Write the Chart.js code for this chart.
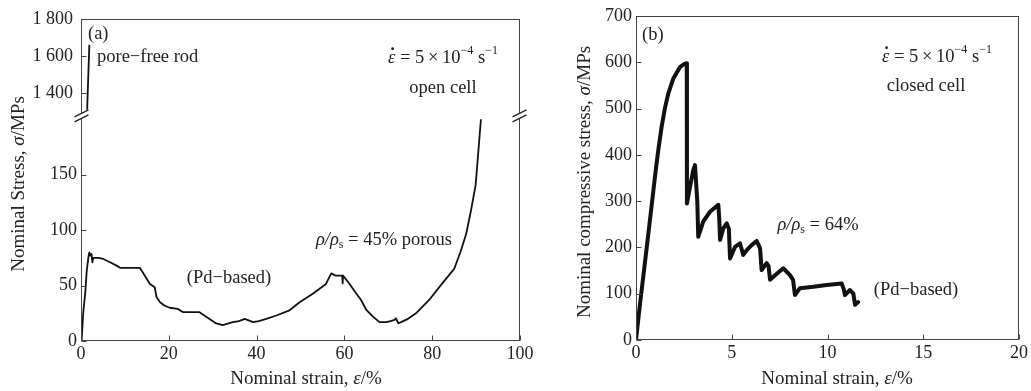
<!DOCTYPE html>
<html>
<head>
<meta charset="utf-8">
<script src="https://cdn.jsdelivr.net/npm/chart.js@4.4.1/dist/chart.umd.min.js"></script>
<style>
  html, body { margin: 0; padding: 0; background: #fff; }
  #wrap { position: relative; width: 1031px; height: 391px; }
  .box { position: absolute; top: 0; height: 391px; }
</style>
</head>
<body>
<div id="wrap">
  <div class="box" style="left:0;width:545px"><canvas id="chartA"></canvas></div>
  <div class="box" style="left:545px;width:486px"><canvas id="chartB"></canvas></div>
</div>
<script>
// (a) open cell, rho/rho_s = 45% porous
const strainA = [0, 0.15, 0.5, 1.0, 1.3, 1.7, 1.9, 2.1, 2.4, 2.6, 2.8, 3.2, 4, 5.1, 6.6, 8.1, 8.9, 10, 11.9, 13.4,
  14.5, 15.7, 16.8, 17.2, 18, 19, 20.2, 22, 23.3, 25, 27, 28.6, 30.8, 32.3, 34.6, 36, 37.3, 39.2, 40.5, 42.2,
  44.5, 47.5, 49.8, 52.8, 55.8, 57, 58, 59.5, 59.6, 59.7, 61.1, 62.5, 63.8, 65, 66.5, 68, 69.5, 70.5, 71.4, 71.7,
  72.3, 72.9, 74.5, 76.3, 79.3, 82.3, 85, 86.5, 87.7, 88.8, 89.9, 91.1];
const stressA = [0, 1, 25, 45, 63, 76, 80, 77, 78.5, 71, 75, 75, 75, 74, 71, 68, 66, 66, 66, 66,
  59, 51.5, 48.5, 39.6, 35, 32, 30, 29, 26, 26, 26, 21.7, 15.8, 14.3, 17, 18, 20, 17, 18, 20,
  23, 27.7, 35, 42.6, 51.5, 61, 59, 59, 52, 59, 51.8, 44, 37, 28, 22, 17, 17, 18, 19, 20.5,
  16, 17, 20, 25, 37, 52, 65, 81, 96, 117, 140.8, 200];
// pore-free rod (upper part of the broken axis)
const strainRod = [1.4, 1.9];
const stressRod = [1310, 1660];

// (b) closed cell, rho/rho_s = 64%
const strainB = [0, 0.1, 0.21, 0.56, 0.9, 1.04, 1.17, 1.34, 1.51, 1.69, 1.95, 2.3, 2.55, 2.65, 2.66, 2.82, 2.99, 3.08,
  3.2, 3.25, 3.51, 3.86, 4.3, 4.35, 4.39, 4.56, 4.74, 4.85, 4.91, 5.17, 5.43, 5.6, 5.78, 6.04, 6.3, 6.48, 6.56,
  6.82, 6.92, 7.0, 7.26, 7.69, 8.04, 8.2, 8.3, 8.56, 9.26, 9.96, 10.74, 10.85, 10.91, 11.17, 11.35, 11.44, 11.6];
const stressB = [0, 38, 78, 200, 320, 370, 412, 461, 501, 533, 565, 590, 597, 598, 295, 331, 367, 378,
  300, 223, 256, 277, 292, 260, 216, 241, 252, 240, 176, 201, 209, 184, 194, 205, 214, 198, 151,
  166, 160, 130, 140, 155, 140, 130, 97, 112, 115, 119, 122, 110, 97, 108, 100, 76, 82];

const ticksAx = [0, 20, 40, 60, 80, 100];
const ticksAyLow = [0, 50, 100, 150];
const ticksAyHigh = [1400, 1600, 1800];
const ticksBx = [0, 5, 10, 15, 20];
const ticksBy = [0, 100, 200, 300, 400, 500, 600, 700];

const ink = '#222';
const axisCol = '#444';
const serif = '"Liberation Serif", "DejaVu Serif", serif';
const tickFont = { family: serif, size: 18 };
const noteSize = 18.5;
const titleSize = 19;

const fmt = v => String(v).replace(/\B(?=(\d{3})+(?!\d))/g, ' ');

function pts(xs, ys) {
  return xs.map((x, i) => ({ x: x, y: ys[i] }));
}

function axis(ticks, extra) {
  return Object.assign({
    type: 'linear',
    grid: { display: false, drawTicks: false },
    border: { display: false },
    afterBuildTicks: s => { s.ticks = ticks.map(v => ({ value: v })); },
    ticks: { font: tickFont, color: ink, padding: 4, autoSkip: false, maxRotation: 0, callback: fmt }
  }, extra);
}

// rich text: runs of {t, it, sup, sub, dot}
function drawRuns(ctx, runs, x, y, size, align, rot) {
  ctx.save();
  ctx.translate(x, y);
  if (rot) ctx.rotate(-Math.PI / 2);
  const parts = runs.map(r => {
    const s = (r.sup || r.sub) ? Math.round(size * 0.66) : size;
    const font = (r.it ? 'italic ' : '') + s + 'px ' + serif;
    ctx.font = font;
    return { r: r, font: font, w: ctx.measureText(r.t).width, dy: r.sup ? -size * 0.36 : r.sub ? size * 0.26 : 0 };
  });
  const total = parts.reduce((s, p) => s + p.w, 0);
  let cx = align === 'center' ? -total / 2 : align === 'right' ? -total : 0;
  ctx.textBaseline = 'middle';
  ctx.textAlign = 'left';
  ctx.fillStyle = ink;
  for (const p of parts) {
    ctx.font = p.font;
    ctx.fillText(p.r.t, cx, p.dy);
    if (p.r.dot) {
      ctx.beginPath();
      ctx.arc(cx + p.w * 0.62, p.dy - size * 0.5, size * 0.075, 0, Math.PI * 2);
      ctx.fill();
    }
    cx += p.w;
  }
  ctx.restore();
}

const rateRuns = [{ t: '\u03B5', it: true, dot: true }, { t: ' = 5\u2009\u00D7\u200910' }, { t: '\u22124', sup: true }, { t: ' s' }, { t: '\u22121', sup: true }];

function decor(cfg) {
  return {
    id: 'decor',
    afterDraw(chart) {
      const ctx = chart.ctx, a = chart.chartArea;
      const L = Math.round(a.left) + 0.5, R = Math.round(a.right) - 0.5;
      const T = Math.round(a.top) + 0.5, B = Math.round(a.bottom) - 0.5;
      ctx.save();
      ctx.strokeStyle = axisCol;
      ctx.lineWidth = 1;
      ctx.strokeRect(L, T, R - L, B - T);
      // inner tick marks
      ctx.beginPath();
      cfg.yIds.forEach(id => {
        const s = chart.scales[id];
        s.ticks.forEach(t => {
          const y = Math.round(s.getPixelForValue(t.value)) + 0.5;
          ctx.moveTo(L, y); ctx.lineTo(L + 5, y);
        });
      });
      const sx = chart.scales.x;
      sx.ticks.forEach(t => {
        const x = Math.round(sx.getPixelForValue(t.value)) + 0.5;
        ctx.moveTo(x, B); ctx.lineTo(x, B - 5);
      });
      ctx.stroke();
      // axis break marks
      if (cfg.breakScale) {
        const yb = chart.scales[cfg.breakScale].top;
        [L, R].forEach(xe => {
          ctx.fillStyle = '#fff';
          ctx.fillRect(xe - 2, yb - 3, 4, 6);
          ctx.beginPath();
          ctx.moveTo(xe - 7, yb + 1); ctx.lineTo(xe + 7, yb - 6);
          ctx.moveTo(xe - 7, yb + 6); ctx.lineTo(xe + 7, yb - 1);
          ctx.strokeStyle = ink;
          ctx.lineWidth = 1.3;
          ctx.stroke();
        });
      }
      ctx.restore();
      cfg.texts.forEach(tx => drawRuns(ctx, tx.runs, tx.x, tx.y, tx.size || noteSize, tx.align || 'left', tx.rot));
    }
  };
}

new Chart(document.getElementById('chartA'), {
  type: 'line',
  data: {
    datasets: [
      { data: pts(strainA, stressA), yAxisID: 'yLow', borderColor: '#111', borderWidth: 1.8, pointRadius: 0, tension: 0, borderJoinStyle: 'round' },
      { data: pts(strainRod, stressRod), yAxisID: 'yHigh', borderColor: '#111', borderWidth: 1.8, pointRadius: 0, tension: 0 }
    ]
  },
  options: {
    responsive: true,
    maintainAspectRatio: false,
    animation: false,
    layout: { padding: { left: 0, right: 25, top: 16, bottom: 0 } },
    plugins: { legend: { display: false }, tooltip: { enabled: false } },
    scales: {
      x: axis(ticksAx, { min: 0, max: 100, position: 'bottom', afterFit: s => { s.height = 50; },
        ticks: { font: tickFont, color: ink, padding: 2, autoSkip: false, maxRotation: 0 } }),
      yLow: axis(ticksAyLow, { min: 0, max: 203, position: 'left', stack: 'a', stackWeight: 227,
        afterFit: s => { s.width = 81; } }),
      yHigh: axis(ticksAyHigh, { min: 1277, max: 1800, position: 'left', stack: 'a', stackWeight: 98,
        afterFit: s => { s.width = 81; },
        ticks: { font: tickFont, color: ink, padding: 8, autoSkip: false, callback: fmt } })
    }
  },
  plugins: [decor({
    yIds: ['yLow', 'yHigh'],
    breakScale: 'yLow',
    texts: [
      { runs: [{ t: '(a)' }], x: 88, y: 34 },
      { runs: [{ t: 'pore\u2212free rod' }], x: 97, y: 57 },
      { runs: rateRuns, x: 443, y: 58, align: 'center' },
      { runs: [{ t: 'open cell' }], x: 443, y: 88, align: 'center' },
      { runs: [{ t: '\u03C1/\u03C1', it: true }, { t: 's', sub: true }, { t: ' = 45% porous' }], x: 384, y: 240, align: 'center' },
      { runs: [{ t: '(Pd\u2212based)' }], x: 229, y: 278, align: 'center' },
      { runs: [{ t: 'Nominal strain, ' }, { t: '\u03B5', it: true }, { t: '/%' }], x: 306, y: 379, align: 'center', size: titleSize },
      { runs: [{ t: 'Nominal Stress, ' }, { t: '\u03C3', it: true }, { t: '/MPs' }], x: 19, y: 184, align: 'center', size: titleSize, rot: true }
    ]
  })]
});

const off = 545;
new Chart(document.getElementById('chartB'), {
  type: 'line',
  data: {
    datasets: [
      { data: pts(strainB, stressB), borderColor: '#111', borderWidth: 4, pointRadius: 0, tension: 0, borderJoinStyle: 'round', borderCapStyle: 'round' }
    ]
  },
  options: {
    responsive: true,
    maintainAspectRatio: false,
    animation: false,
    layout: { padding: { left: 0, right: 12, top: 16, bottom: 0 } },
    plugins: { legend: { display: false }, tooltip: { enabled: false } },
    scales: {
      x: axis(ticksBx, { min: 0, max: 20, position: 'bottom', afterFit: s => { s.height = 51; },
        ticks: { font: tickFont, color: ink, padding: 2, autoSkip: false, maxRotation: 0 } }),
      y: axis(ticksBy, { min: 0, max: 700, position: 'left', afterFit: s => { s.width = 91; } })
    }
  },
  plugins: [decor({
    yIds: ['y'],
    texts: [
      { runs: [{ t: '(b)' }], x: 642 - off, y: 35 },
      { runs: rateRuns, x: 937 - off, y: 57, align: 'center' },
      { runs: [{ t: 'closed cell' }], x: 926 - off, y: 86, align: 'center' },
      { runs: [{ t: '\u03C1/\u03C1', it: true }, { t: 's', sub: true }, { t: ' = 64%' }], x: 818 - off, y: 225, align: 'center' },
      { runs: [{ t: '(Pd\u2212based)' }], x: 916 - off, y: 290, align: 'center' },
      { runs: [{ t: 'Nominal strain, ' }, { t: '\u03B5', it: true }, { t: '/%' }], x: 837 - off, y: 379, align: 'center', size: titleSize },
      { runs: [{ t: 'Nominal compressive stress, ' }, { t: '\u03C3', it: true }, { t: '/MPs' }], x: 585 - off, y: 182, align: 'center', size: titleSize, rot: true }
    ]
  })]
});
</script>
</body>
</html>
